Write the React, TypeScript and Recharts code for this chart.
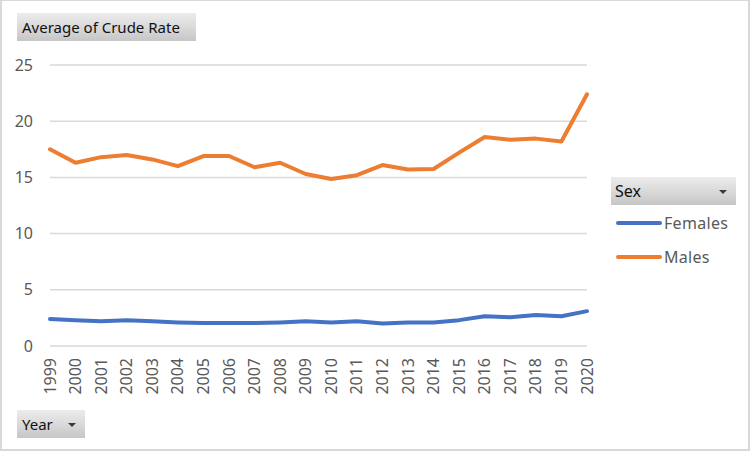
import React from "react";
import { LineChart, Line, XAxis, YAxis, CartesianGrid, Legend } from "recharts";

const years = ["1999","2000","2001","2002","2003","2004","2005","2006","2007","2008","2009","2010","2011","2012","2013","2014","2015","2016","2017","2018","2019","2020"];
const females = [2.4,2.3,2.2,2.3,2.2,2.1,2.05,2.05,2.05,2.1,2.2,2.1,2.2,2.0,2.1,2.1,2.3,2.65,2.55,2.75,2.65,3.1];
const males = [17.5,16.3,16.8,17.0,16.6,16.0,16.9,16.9,15.9,16.3,15.3,14.85,15.2,16.1,15.7,15.75,17.2,18.6,18.35,18.45,18.2,22.4];
const yTicks = [0,5,10,15,20,25];
const seriesNames = ["Females","Males"];
const seriesColors = ["#4472C4","#ED7D31"];

const data = years.map((y, i) => ({ year: y, Females: females[i], Males: males[i] }));

const FONT = "'Noto Sans', 'Open Sans', sans-serif";

const btnStyle: React.CSSProperties = {
  position: "absolute",
  background: "linear-gradient(to bottom, #ececec 0%, #d6d6d6 60%, #c6c6c6 100%)",
  fontFamily: FONT,
  fontSize: 15,
  color: "#111",
  boxSizing: "border-box",
  display: "flex",
  alignItems: "center",
};

const Arrow = ({ left }: { left: number }) => (
  <div style={{ position: "absolute", left, top: "50%", marginTop: -1, width: 0, height: 0,
    borderLeft: "4px solid transparent", borderRight: "4px solid transparent", borderTop: "4px solid #3a3a3a" }} />
);

const XTick = (props: any) => {
  const { x, y, payload } = props;
  return (
    <g transform={`translate(${x},${y + 12})`}>
      <text x={0} y={0} dy="0.35em" transform="rotate(-90)" textAnchor="end"
        fill="#595959" fontSize={16} fontFamily={FONT}>{payload.value}</text>
    </g>
  );
};

const LegendContent = (props: any) => {
  const payload = props.payload || [];
  return (
    <div style={{ position: "relative", width: 125, fontFamily: FONT }}>
      <div style={{ ...btnStyle, position: "relative", width: 125, height: 28, paddingLeft: 4, fontSize: 16 }}>
        Sex
        <Arrow left={108} />
      </div>
      {payload.map((p: any, i: number) => (
        <div key={p.value} style={{ display: "flex", alignItems: "center", height: 34, marginTop: i === 0 ? 1 : 0 }}>
          <div style={{ width: 46, height: 4, borderRadius: 2, background: p.color, marginLeft: 5 }} />
          <span style={{ marginLeft: 2, fontSize: 16, color: "#595959", letterSpacing: 0.3 }}>{p.value}</span>
        </div>
      ))}
    </div>
  );
};

export default function App() {
  return (
    <div style={{ position: "absolute", left: 0, top: 0, width: 752, height: 452, background: "#fff" }}>
      <div style={{ position: "absolute", left: 0, top: 0, width: 750, height: 451, boxSizing: "border-box",
        borderLeft: "2px solid #d9d9d9", borderRight: "2px solid #d9d9d9", borderTop: "1px solid #d9d9d9", borderBottom: "2px solid #d9d9d9" }} />
      <LineChart width={752} height={452} data={data} margin={{ top: 65, right: 165, left: 0, bottom: 0 }}
        style={{ position: "absolute", left: 0, top: 0 }}>
        <CartesianGrid vertical={false} stroke="#d9d9d9" strokeWidth={1.5} />
        <XAxis dataKey="year" height={106} axisLine={false} tickLine={false} tickSize={0} tickMargin={0}
          interval={0} tick={<XTick />} />
        <YAxis width={50} domain={[0, 25]} ticks={yTicks} axisLine={false} tickLine={false} tickSize={0} tickMargin={17}
          tick={{ fill: "#595959", fontSize: 16, fontFamily: FONT }} />
        {seriesNames.map((n, i) => (
          <Line key={n} type="linear" dataKey={n} stroke={seriesColors[i]} strokeWidth={4} dot={false}
            isAnimationActive={false} strokeLinejoin="round" strokeLinecap="round" />
        ))}
        <Legend layout="vertical" align="center" verticalAlign="middle" content={<LegendContent />}
          wrapperStyle={{ position: "absolute", left: 611, top: 177, width: 125 }} />
      </LineChart>
      <div style={{ ...btnStyle, left: 17, top: 13, width: 179, height: 28, paddingLeft: 5 }}>
        Average of Crude Rate
      </div>
      <div style={{ ...btnStyle, left: 17, top: 410, width: 68, height: 28, paddingLeft: 5 }}>
        Year
        <Arrow left={51} />
      </div>
    </div>
  );
}
